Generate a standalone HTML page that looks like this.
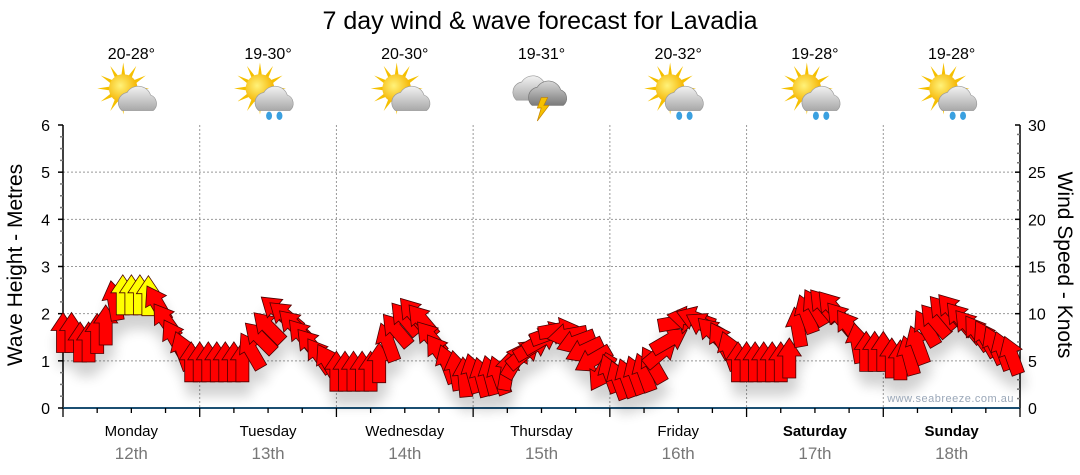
<!DOCTYPE html>
<html><head><meta charset="utf-8"><style>
html,body{margin:0;padding:0;background:#fff;}
svg{display:block;font-family:"Liberation Sans",sans-serif;}
</style></head><body>
<svg id="chart" width="1080" height="475" viewBox="0 0 1080 475" xmlns="http://www.w3.org/2000/svg">
<defs>
<filter id="shadow" x="-50%" y="-50%" width="200%" height="250%">
<feGaussianBlur in="SourceAlpha" stdDeviation="6"/>
<feOffset dx="2" dy="14" result="b"/>
<feComponentTransfer><feFuncA type="linear" slope="0.18"/></feComponentTransfer>
<feMerge><feMergeNode/><feMergeNode in="SourceGraphic"/></feMerge>
</filter>
<radialGradient id="sunG" cx="0.4" cy="0.4" r="0.6"><stop offset="0" stop-color="#fff27a"/><stop offset="1" stop-color="#f5b400"/></radialGradient>
<linearGradient id="cloudG" x1="0" y1="0" x2="0" y2="1"><stop offset="0" stop-color="#f2f2f2"/><stop offset="1" stop-color="#a8a8a8"/></linearGradient>
<linearGradient id="stormG" x1="0" y1="0" x2="0" y2="1"><stop offset="0" stop-color="#d8d8d8"/><stop offset="1" stop-color="#7a7a7a"/></linearGradient>
</defs>
<text x="540" y="29" text-anchor="middle" font-size="25" fill="#000">7 day wind &amp; wave forecast for Lavadia</text>
<g id="grid"></g>
<g id="axes"></g>
<g id="topg"></g>
<g id="arrows" filter="url(#shadow)"></g>
<text x="1014" y="402" text-anchor="end" font-size="11" fill="#9aa7b8" letter-spacing="0.5">www.seabreeze.com.au</text>
<text transform="translate(22,265) rotate(-90)" text-anchor="middle" font-size="21" fill="#000">Wave Height - Metres</text>
<text transform="translate(1058,265) rotate(90)" text-anchor="middle" font-size="21" fill="#000">Wind Speed - Knots</text>
</svg>
<script>
const days = ["Monday","Tuesday","Wednesday","Thursday","Friday","Saturday","Sunday"];
const dates = ["12th","13th","14th","15th","16th","17th","18th"];
const temps = ["20-28°","19-30°","20-30°","19-31°","20-32°","19-28°","19-28°"];
const icons = ["sun-cloud","sun-rain","sun-cloud","storm","sun-rain","sun-rain","sun-rain"];
const leftTicks = [0,1,2,3,4,5,6];
const rightTicks = [0,5,10,15,20,25,30];
const windSpeed = [
 8.0,8.0,7.0,7.0,7.9,8.8,11.4,12,12,12,11.9,11.1,9.3,7.5,6.1,4.9,
 4.9,4.9,4.9,4.9,4.9,4.9,6.1,7.5,8.6,10.4,9.8,8.8,7.7,6.7,5.6,4.9,
 3.9,3.9,3.9,3.9,3.9,4.8,7.0,8.3,9.5,10.0,9.3,7.5,6.0,4.7,4.0,3.3,
 3.7,3.3,3.5,3.5,4.0,5.1,5.8,6.5,7.2,7.9,8.3,7.7,7.0,6.1,5.1,3.7,
 3.7,3.0,3.2,3.5,3.8,4.6,5.9,7.2,9.1,9.5,9.5,8.8,8.0,7.2,6.1,4.9,
 4.9,4.9,4.9,4.9,4.9,5.3,8.6,10.0,10.7,10.9,10.7,9.5,8.6,6.9,6.0,6.0,
 6.0,5.3,5.1,5.6,6.7,8.5,9.3,10.2,10.4,9.5,8.7,8.0,7.4,6.7,6.1,5.6
];
const windDir = [
 0,0,0,0,0,0,-10,0,0,0,0,-30,-35,-30,-20,0,
 0,0,0,0,0,0,-30,-45,-45,-50,-50,-45,-40,-40,-35,-30,
 0,0,0,0,0,0,-20,-40,-40,-40,-40,-40,-35,-20,-10,-5,
 -15,-15,-15,-20,10,30,50,60,60,70,80,-100,-110,-115,-120,-150,
 -20,-20,-20,-20,-20,-30,50,60,80,-80,-70,-60,-45,-30,-20,0,
 0,0,0,0,0,0,-10,-20,-30,-40,-40,-40,-35,-10,0,0,
 0,0,0,-15,-20,-30,-40,-40,-40,-40,-40,-35,-30,-25,-20,-20
];
const NS="http://www.w3.org/2000/svg";
const X0=63,X1=1020,Y0=408,Y1=125;
const dayW=(X1-X0)/7;
const yM=m=>Y0-(Y0-Y1)*m/6;
const yK=k=>Y0-(Y0-Y1)*k/30;
const xI=i=>X0+i*dayW/16;
function mk(tag,attrs,parent){const e=document.createElementNS(NS,tag);for(const k in attrs)e.setAttribute(k,attrs[k]);parent.appendChild(e);return e;}
const grid=document.getElementById('grid'),axes=document.getElementById('axes'),topG=document.getElementById('topg'),arr=document.getElementById('arrows');
for(let m=1;m<=5;m++){const l=mk('line',{x1:X0,x2:X1,y1:yM(m),y2:yM(m),stroke:'#999','stroke-dasharray':'2,2','stroke-width':1},grid);

}
for(let d=1;d<7;d++){const x=X0+d*dayW;const l=mk('line',{x1:x,x2:x,y1:Y1,y2:Y0,stroke:'#999','stroke-dasharray':'2,2','stroke-width':1},grid);

}
mk('line',{x1:X0,x2:X0,y1:Y1,y2:Y0,stroke:'#000','stroke-width':1.5},axes);
for(let q=0;q<=24;q++){const y=yM(q/4);mk('line',{x1:X0-(q%4===0?5:3),x2:X0,y1:y,y2:y,stroke:q%4===0?'#000':'#777','stroke-width':1.5},axes);}
leftTicks.forEach(v=>{const t=mk('text',{x:50,y:yM(v)+6,'text-anchor':'end','font-size':16,fill:'#000'},axes);t.textContent=v;

});
mk('line',{x1:X1,x2:X1,y1:Y1,y2:Y0,stroke:'#000','stroke-width':1.5},axes);
for(let k=0;k<=30;k++){const y=yK(k);mk('line',{x1:X1-(k%5===0?5:3),x2:X1,y1:y,y2:y,stroke:k%5===0?'#000':'#777','stroke-width':1.5},axes);}
rightTicks.forEach(v=>{const t=mk('text',{x:1028,y:yK(v)+6,'text-anchor':'start','font-size':16,fill:'#000'},axes);t.textContent=v;

});
mk('line',{x1:X0,x2:X1,y1:Y0,y2:Y0,stroke:'#1b4f72','stroke-width':2},axes);
for(let q=0;q<=28;q++){const x=X0+q*dayW/4;mk('line',{x1:x,x2:x,y1:Y0,y2:Y0+(q%4===0?9:5),stroke:'#000','stroke-width':1.3},axes);}
days.forEach((d,i)=>{const cx=X0+(i+0.5)*dayW;
const t=mk('text',{x:cx,y:436,'text-anchor':'middle','font-size':15,fill:'#000','font-weight':i>=5?'bold':'normal'},axes);t.textContent=d;


const t2=mk('text',{x:cx,y:459,'text-anchor':'middle','font-size':17,fill:'#777'},axes);t2.textContent=dates[i];


const t3=mk('text',{x:cx,y:59,'text-anchor':'middle','font-size':16,fill:'#000'},topG);t3.textContent=temps[i];


const g=mk('g',{transform:`translate(${cx+1},95) scale(1.3)`},topG);


const kind=icons[i];
if(kind!=='storm'){
 for(let r=0;r<12;r++){const a=r*30*Math.PI/180;mk('polygon',{points:`${-7+Math.cos(a-0.15)*10},${-5+Math.sin(a-0.15)*10} ${-7+Math.cos(a)*20},${-5+Math.sin(a)*20} ${-7+Math.cos(a+0.15)*10},${-5+Math.sin(a+0.15)*10}`,fill:'#f5c000'},g);}
 mk('circle',{cx:-7,cy:-5,r:11,fill:'url(#sunG)'},g);
 mk('path',{d:'M-8,12 a8,8 0 0 1 4,-14 a10,10 0 0 1 18,2 a7,7 0 0 1 2,12 z',fill:'url(#cloudG)',stroke:'#999','stroke-width':0.5},g);
 if(kind==='sun-rain'){mk('ellipse',{cx:0,cy:16,rx:2.3,ry:3.2,fill:'#3aa0e0'},g);mk('ellipse',{cx:8,cy:16,rx:2.3,ry:3.2,fill:'#3aa0e0'},g);}
}else{
 mk('path',{d:'M-20,4 a8,8 0 0 1 4,-14 a10,10 0 0 1 18,2 a7,7 0 0 1 2,12 z',fill:'url(#cloudG)',stroke:'#999','stroke-width':0.5},g);
 mk('path',{d:'M-8,8 a8,8 0 0 1 4,-14 a10,10 0 0 1 18,2 a7,7 0 0 1 2,12 z',fill:'url(#stormG)',stroke:'#777','stroke-width':0.5},g);
 mk('polygon',{points:'-1,2 4,2 1,8 5,8 -4,20 -1,10 -4,10',fill:'#f5c000',stroke:'#c08000','stroke-width':0.5},g);
}
});
const pts="0,-20 12,-2 6.5,-2 6.5,20 -6.5,20 -6.5,-2 -12,-2";
windSpeed.forEach((k,i)=>{
 const p=mk('polygon',{points:pts,transform:`translate(${xI(i).toFixed(1)},${yK(k).toFixed(1)}) rotate(${windDir[i]})`,fill:k>=11.8?'#ffff00':'#ff0000',stroke:'#4a0000','stroke-width':0.8},arr);
 
 
});
</script>
</body></html>
